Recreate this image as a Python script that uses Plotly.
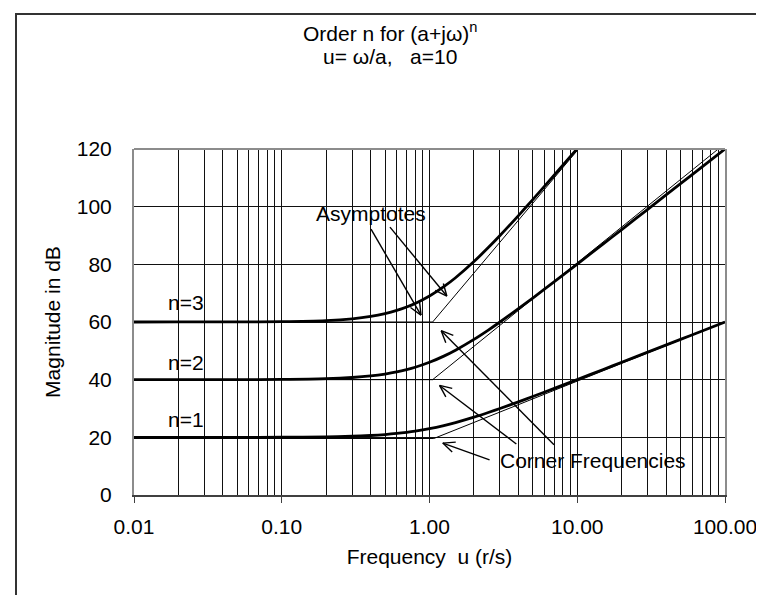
import numpy as np
import plotly.graph_objects as go

# ---------------- data ----------------
u = [0.01, 0.02, 0.05, 0.1, 0.2, 0.3, 0.4, 0.5, 0.6, 0.7, 0.8, 1.0, 1.25, 1.5,
     2, 2.5, 3, 4, 5, 7, 10, 15, 20, 30, 50, 70, 100]
mag_n1 = [20.00, 20.00, 20.01, 20.04, 20.17, 20.37, 20.64, 20.97, 21.34, 21.74, 22.15,
          23.01, 24.09, 25.12, 26.99, 28.60, 30.00, 32.30, 34.15, 36.99, 40.04, 43.54,
          46.03, 49.55, 53.98, 56.90, 60.00]
mag_n2 = [40.00, 40.00, 40.02, 40.09, 40.34, 40.75, 41.29, 41.94, 42.67, 43.47, 44.30,
          46.02, 48.17, 50.23, 53.98, 57.21, 60.00, 64.61, 68.30, 73.98, 80.09, 87.08,
          92.06, 99.09, 107.96, 113.81, 120.00]
u_n3 = [0.01, 0.02, 0.05, 0.1, 0.2, 0.3, 0.4, 0.5, 0.6, 0.7, 0.8, 1.0, 1.25, 1.5,
        2, 2.5, 3, 4, 5, 7, 10]
mag_n3 = [60.00, 60.01, 60.03, 60.13, 60.51, 61.12, 61.93, 62.91, 64.01, 65.21, 66.44,
          69.03, 72.26, 75.35, 80.97, 85.81, 90.00, 96.91, 102.45, 110.97, 120.13]

# thin asymptote lines
asym_u_n1 = [0.01, 1.07, 100]
asym_db_n1 = [19.6, 19.6, 60]
asym_u_n2 = [0.01, 1.05, 90]
asym_db_n2 = [40, 40, 120]
asym_u_n3 = [0.01, 1.05, 10.2]
asym_db_n3 = [60, 60, 120]

curve_labels = ["n=1", "n=2", "n=3"]
curve_label_u = [0.0224, 0.0224, 0.0224]
curve_label_db = [26.1, 46.1, 66.6]

x_ticks = [0.01, 0.1, 1, 10, 100]
x_ticktext = ["0.01", "0.10", "1.00", "10.00", "100.00"]
y_ticks = [0, 20, 40, 60, 80, 100, 120]

# annotation arrows (tail -> head), in (u, dB)
asym_text_pos = (0.402, 97.8)
asym_arrows = [((0.402, 92.2), (0.876, 62.4)),
               ((0.540, 92.9), (1.31, 69.0))]
corner_text_pos = (12.8, 11.8)
corner_arrows = [((6.96, 17.4), (1.20, 57.0)),
                 ((3.87, 17.7), (1.17, 38.0)),
                 ((2.55, 12.2), (1.23, 18.0))]

# ---------------- layout geometry ----------------
W, H = 764, 595
L, R, T, B = 126, 717, 141, 487
pw, ph = R - L, B - T
XMIN, XMAX = -2, 2
YMIN, YMAX = 0, 120


def px2paper_x(px):
    return (px - L) / pw


def px2paper_y(py):
    return (B - py) / ph


def data2px(uu, db):
    px = L + (np.log10(uu) - XMIN) / (XMAX - XMIN) * pw
    py = B - (db - YMIN) / (YMAX - YMIN) * ph
    return px, py


FONT = "Liberation Sans, Arial, sans-serif"
FS = 21
txtfont = dict(family=FONT, size=FS, color="black")

fig = go.Figure()

thin = dict(color="black", width=1)
for xs, ys in [(asym_u_n1, asym_db_n1), (asym_u_n2, asym_db_n2), (asym_u_n3, asym_db_n3)]:
    fig.add_trace(go.Scatter(x=xs, y=ys, mode="lines", line=thin,
                             showlegend=False, hoverinfo="skip"))

thick = dict(color="black", width=2.8, shape="spline", smoothing=0.8)
for xs, ys in [(u, mag_n1), (u, mag_n2), (u_n3, mag_n3)]:
    fig.add_trace(go.Scatter(x=xs, y=ys, mode="lines", line=thick,
                             showlegend=False, hoverinfo="skip"))

minor_vals = [d * 10.0 ** e for e in range(-2, 2) for d in range(2, 10)]

fig.update_xaxes(
    type="log", range=[XMIN, XMAX],
    tickvals=x_ticks, ticktext=x_ticktext,
    ticks="outside", ticklen=6, tickwidth=1, tickcolor="#404040",
    showgrid=True, gridcolor="#111111", gridwidth=1,
    minor=dict(tickvals=minor_vals, showgrid=True, gridcolor="#111111",
               gridwidth=1, ticks=""),
    showline=True, linecolor="#404040", linewidth=2,
    zeroline=False,
    tickfont=txtfont,
    ticklabelstandoff=6,
    title=dict(text="Frequency  u (r/s)", font=txtfont, standoff=12),
    automargin=False,
)
fig.update_yaxes(
    range=[YMIN, YMAX], tickvals=y_ticks,
    ticks="", showgrid=True, gridcolor="#111111", gridwidth=1,
    showline=True, linecolor="#8c8c8c", linewidth=2, mirror=True,
    zeroline=False,
    tickfont=txtfont,
    ticklabelstandoff=16,
    title=dict(text="Magnitude in dB", font=txtfont, standoff=10),
    automargin=False,
)

annotations = []
# title (two lines)
annotations.append(dict(xref="paper", yref="paper", x=px2paper_x(382), y=px2paper_y(24),
                        text="Order n for (a+jω)<sup>n</sup>",
                        showarrow=False, font=txtfont,
                        xanchor="center", yanchor="middle"))
annotations.append(dict(xref="paper", yref="paper", x=px2paper_x(382), y=px2paper_y(48),
                        text="u= ω/a,   a=10",
                        showarrow=False, font=txtfont,
                        xanchor="center", yanchor="middle"))
# n labels
for t, xu, yd in zip(curve_labels, curve_label_u, curve_label_db):
    annotations.append(dict(x=np.log10(xu), y=yd, xref="x", yref="y", text=t,
                            showarrow=False, font=txtfont,
                            xanchor="center", yanchor="middle"))
# annotation texts
annotations.append(dict(x=np.log10(asym_text_pos[0]), y=asym_text_pos[1], xref="x", yref="y",
                        text="Asymptotes", showarrow=False, font=txtfont,
                        xanchor="center", yanchor="middle"))
annotations.append(dict(x=np.log10(corner_text_pos[0]), y=corner_text_pos[1], xref="x", yref="y",
                        text="Corner Frequencies", showarrow=False, font=txtfont,
                        xanchor="center", yanchor="middle"))

shapes = [
    # top border of plot area
    dict(type="line", xref="paper", yref="paper", x0=0, x1=1, y0=1, y1=1,
         line=dict(color="#8c8c8c", width=2)),
    # outer chart border
    dict(type="rect", xref="paper", yref="paper",
         x0=px2paper_x(8), x1=px2paper_x(760), y0=px2paper_y(610), y1=px2paper_y(6),
         line=dict(color="#333333", width=2), fillcolor="rgba(0,0,0,0)"),
]

# arrows with open "V" heads (drawn as thin lines)
HEAD_LEN = 13.0
HEAD_ANG = np.deg2rad(24)
arrow_line = dict(color="black", width=1.4)
for tail, head in asym_arrows + corner_arrows:
    tx, ty = data2px(*tail)
    hx, hy = data2px(*head)
    shapes.append(dict(type="line", xref="paper", yref="paper",
                       x0=px2paper_x(tx), y0=px2paper_y(ty),
                       x1=px2paper_x(hx), y1=px2paper_y(hy), line=arrow_line))
    ang = np.arctan2(ty - hy, tx - hx)
    for s in (-1, 1):
        ex = hx + HEAD_LEN * np.cos(ang + s * HEAD_ANG)
        ey = hy + HEAD_LEN * np.sin(ang + s * HEAD_ANG)
        shapes.append(dict(type="line", xref="paper", yref="paper",
                           x0=px2paper_x(hx), y0=px2paper_y(hy),
                           x1=px2paper_x(ex), y1=px2paper_y(ey), line=arrow_line))

fig.update_layout(
    width=W, height=H,
    margin=dict(l=L, r=W - R, t=T, b=H - B, autoexpand=False),
    paper_bgcolor="white", plot_bgcolor="white",
    annotations=annotations, shapes=shapes,
    showlegend=False,
    font=txtfont,
)

fig.write_html("out.html")
